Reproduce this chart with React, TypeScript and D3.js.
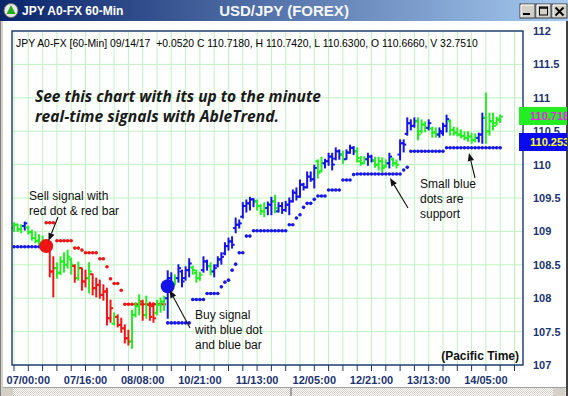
import React from "react";
import * as d3 from "d3";

const W = 568;
const H = 396;

// ---- data ----
const xLabels = ["07/00:00", "07/16:00", "08/08:00", "10/21:00", "11/13:00", "12/05:00", "12/21:00", "13/13:00", "14/05:00"];
const xLabelIndex = [4, 20, 36, 52, 68, 84, 100, 116, 132];
const yTicks = [107, 107.5, 108, 108.5, 109, 109.5, 110, 110.5, 111, 111.5, 112];

// g = neutral (green), b = up (blue), r = down (red)
const barColors = (
  "gggbgggggr" + "rrgggggrgr" + "rgrrrrrrgr" + "rrrgggrgrr" + "gggbbgbbbb" +
  "gggbbgbbbb" + "bbbbbbbbgg" + "gbbgbbbbbb" + "bbbbbggbbb" + "bbgbbbgggb" +
  "bggggbggbb" + "bbbgggbggb" + "bbgggggggg" + "bbggggg"
).split("");

const highs = [
  109.13, 109.11, 109.10, 109.14, 109.08, 109.02, 108.99, 108.95, 108.93, 108.87,
  108.78, 108.62, 108.53, 108.62, 108.68, 108.72, 108.60, 108.50, 108.54, 108.45,
  108.42, 108.53, 108.36, 108.30, 108.27, 108.20, 108.15, 107.97, 107.78, 107.75,
  107.70, 107.60, 107.52, 107.82, 107.93, 108.05, 107.97, 108.03, 107.94, 107.93,
  107.97, 108.00, 108.03, 108.41, 108.38, 108.35, 108.50, 108.42, 108.47, 108.59,
  108.48, 108.42, 108.39, 108.62, 108.57, 108.53, 108.50, 108.62, 108.68, 108.83,
  108.90, 108.92, 109.20, 109.17, 109.43, 109.47, 109.51, 109.49, 109.47, 109.40,
  109.43, 109.44, 109.51, 109.54, 109.43, 109.43, 109.45, 109.50, 109.62, 109.65,
  109.77, 109.72, 109.89, 109.89, 109.99, 110.07, 110.11, 110.08, 110.17, 110.17,
  110.25, 110.22, 110.20, 110.22, 110.29, 110.27, 110.25, 110.12, 110.12, 110.17,
  110.14, 110.11, 110.11, 110.10, 110.07, 110.17, 110.10, 110.07, 110.37, 110.37,
  110.70, 110.67, 110.70, 110.70, 110.67, 110.64, 110.67, 110.56, 110.55, 110.55,
  110.62, 110.74, 110.67, 110.56, 110.55, 110.52, 110.49, 110.49, 110.47, 110.46,
  110.47, 110.77, 111.07, 110.77, 110.77, 110.71, 110.742,
];
const lows = [
  109.00, 109.00, 108.98, 109.02, 108.96, 108.87, 108.83, 108.80, 108.78, 108.72,
  108.32, 108.02, 108.30, 108.35, 108.39, 108.45, 108.36, 108.24, 108.27, 108.12,
  108.17, 108.08, 108.05, 108.02, 108.00, 107.97, 107.60, 107.64, 107.60, 107.57,
  107.49, 107.33, 107.30, 107.25, 107.72, 107.75, 107.67, 107.70, 107.67, 107.64,
  107.75, 107.79, 107.82, 107.70, 108.17, 108.20, 108.24, 108.17, 108.27, 108.32,
  108.36, 108.24, 108.27, 108.39, 108.42, 108.35, 108.32, 108.47, 108.51, 108.65,
  108.72, 108.75, 108.98, 109.05, 109.20, 109.29, 109.32, 109.37, 109.32, 109.25,
  109.22, 109.25, 109.25, 109.28, 109.29, 109.27, 109.30, 109.25, 109.44, 109.47,
  109.51, 109.62, 109.65, 109.75, 109.65, 109.80, 109.89, 109.95, 109.99, 109.92,
  110.07, 110.08, 110.02, 110.08, 110.17, 110.15, 110.04, 109.99, 110.02, 109.99,
  110.04, 109.96, 109.92, 109.89, 109.96, 109.95, 109.98, 109.95, 110.07, 110.19,
  110.44, 110.52, 110.56, 110.37, 110.47, 110.49, 110.52, 110.41, 110.41, 110.41,
  110.44, 110.49, 110.44, 110.44, 110.43, 110.40, 110.37, 110.35, 110.32, 110.34,
  110.34, 110.32, 110.32, 110.44, 110.52, 110.59, 110.63,
];
const opens = [
  109.05, 109.10, 109.03, 109.08, 109.06, 108.99, 108.90, 108.86, 108.83, 108.80,
  108.75, 108.40, 108.45, 108.38, 108.55, 108.50, 108.58, 108.48, 108.30, 108.45,
  108.25, 108.30, 108.36, 108.15, 108.20, 108.05, 108.10, 107.70, 107.62, 107.72,
  107.60, 107.55, 107.40, 107.35, 107.75, 107.88, 107.95, 107.75, 107.90, 107.88,
  107.78, 107.90, 107.95, 108.00, 108.30, 108.22, 108.30, 108.40, 108.30, 108.42,
  108.46, 108.38, 108.30, 108.42, 108.55, 108.48, 108.40, 108.49, 108.58, 108.67,
  108.78, 108.85, 109.05, 109.10, 109.22, 109.38, 109.42, 109.48, 109.45, 109.38,
  109.30, 109.35, 109.40, 109.45, 109.30, 109.38, 109.32, 109.40, 109.45, 109.58,
  109.52, 109.70, 109.66, 109.82, 109.78, 110.05, 109.90, 110.02, 110.05, 110.12,
  110.09, 110.20, 110.15, 110.08, 110.18, 110.25, 110.20, 110.05, 110.02, 110.08,
  110.12, 110.06, 110.00, 110.05, 109.98, 110.02, 110.08, 110.02, 110.15, 110.32,
  110.46, 110.62, 110.58, 110.65, 110.50, 110.60, 110.55, 110.54, 110.48, 110.45,
  110.47, 110.58, 110.65, 110.52, 110.48, 110.45, 110.43, 110.40, 110.42, 110.37,
  110.40, 110.45, 110.70, 110.50, 110.65, 110.62, 110.666,
];
const closes = [
  109.10, 109.03, 109.08, 109.12, 108.99, 108.90, 108.86, 108.83, 108.80, 108.75,
  108.40, 108.45, 108.38, 108.55, 108.50, 108.62, 108.50, 108.30, 108.45, 108.25,
  108.30, 108.40, 108.15, 108.20, 108.05, 108.10, 107.70, 107.85, 107.72, 107.60,
  107.55, 107.40, 107.35, 107.75, 107.88, 107.95, 107.75, 107.90, 107.72, 107.70,
  107.90, 107.95, 108.00, 108.30, 108.22, 108.30, 108.45, 108.25, 108.42, 108.52,
  108.42, 108.30, 108.35, 108.55, 108.48, 108.40, 108.45, 108.58, 108.62, 108.78,
  108.85, 108.80, 109.10, 109.12, 109.38, 109.42, 109.48, 109.45, 109.38, 109.30,
  109.35, 109.40, 109.45, 109.35, 109.38, 109.32, 109.40, 109.45, 109.58, 109.52,
  109.70, 109.66, 109.82, 109.78, 109.95, 109.88, 110.02, 110.05, 110.12, 110.00,
  110.20, 110.15, 110.08, 110.18, 110.25, 110.20, 110.10, 110.02, 110.08, 110.12,
  110.06, 110.00, 110.05, 109.95, 110.02, 110.12, 110.02, 110.00, 110.32, 110.30,
  110.62, 110.58, 110.65, 110.45, 110.60, 110.55, 110.62, 110.48, 110.45, 110.50,
  110.58, 110.68, 110.52, 110.48, 110.45, 110.43, 110.40, 110.42, 110.37, 110.40,
  110.45, 110.70, 110.50, 110.65, 110.58, 110.68, 110.718,
];

const N = null;
const supportDots: (number | null)[] = [
  108.77, 108.77, 108.77, 108.77, 108.77, 108.77, 108.77, 108.77, N, N,
  N, N, N, N, N, N, N, N, N, N,
  N, N, N, N, N, N, N, N, N, N,
  N, N, N, N, N, N, N, N, N, N,
  N, N, N, 107.63, 107.63, 107.63, 107.63, 107.63, 107.63, 107.63,
  107.98, 107.98, 107.98, 107.98, 108.07, 108.07, 108.07, 108.07, 108.17, 108.24,
  108.27, 108.42, 108.51, 108.68, 108.68, 108.93, 108.93, 109.01, 109.01, 109.01,
  109.01, 109.01, 109.01, 109.01, 109.01, 109.01, 109.01, 109.10, 109.10, 109.20,
  109.25, 109.36, 109.42, 109.42, 109.48, 109.53, 109.53, 109.53, 109.62, 109.62,
  109.62, 109.62, 109.77, 109.77, 109.77, 109.85, 109.86, 109.86, 109.86, 109.86,
  109.86, 109.86, 109.86, 109.86, 109.86, 109.86, 109.86, 109.86, 109.86, 109.92,
  109.96, 110.20, 110.20, 110.20, 110.20, 110.20, 110.20, 110.20, 110.20, 110.20,
  110.20, 110.253, 110.253, 110.253, 110.253, 110.253, 110.253, 110.253, 110.253, 110.253,
  110.253, 110.253, 110.253, 110.253, 110.253, 110.253, 110.253,
];
const resistanceDots: (number | null)[] = [
  N, N, N, N, N, N, N, N, N, 109.13,
  109.13, 109.13, 108.86, 108.86, 108.86, 108.86, 108.86, 108.75, 108.75, 108.72,
  108.68, 108.68, 108.68, 108.68, 108.59, 108.59, 108.47, 108.29, 108.22, 108.22,
  108.12, 107.91, 107.91, 107.91, 107.91, 107.91, 107.91, 107.91, 107.91, 107.91,
  107.91, 107.91, 107.91, N, N, N, N, N, N, N,
  N, N, N, N, N, N, N, N, N, N,
  N, N, N, N, N, N, N, N, N, N,
  N, N, N, N, N, N, N, N, N, N,
  N, N, N, N, N, N, N, N, N, N,
  N, N, N, N, N, N, N, N, N, N,
  N, N, N, N, N, N, N, N, N, N,
  N, N, N, N, N, N, N, N, N, N,
  N, N, N, N, N, N, N, N, N, N,
  N, N, N, N, N, N, N,
];

const sellSignal = { index: 9, price: 108.78 };
const buySignal = { index: 43, price: 108.18 };
const lastClose = 110.718;
const lastSupport = 110.253;

const headerText =
  "JPY A0-FX [60-Min] 09/14/17  +0.0520 C 110.7180, H 110.7420, L 110.6300, O 110.6660, V 32.7510";

// ---- styles ----
const COL: Record<string, string> = { g: "#22ee22", b: "#1414e6", r: "#f01414" };
const NAVY = "#1c3470";
const GRID = "#bff2bf";

function arrowPath(x1: number, y1: number, x2: number, y2: number) {
  const a = Math.atan2(y2 - y1, x2 - x1);
  const len = 8, w = 3.2;
  const bx = x2 - len * Math.cos(a), by = y2 - len * Math.sin(a);
  const px = -Math.sin(a) * w, py = Math.cos(a) * w;
  return {
    line: `M${x1},${y1}L${bx},${by}`,
    head: `M${x2},${y2}L${bx + px},${by + py}L${bx - px},${by - py}Z`,
  };
}

function Arrow({ x1, y1, x2, y2 }: { x1: number; y1: number; x2: number; y2: number }) {
  const p = arrowPath(x1, y1, x2, y2);
  return (
    <g>
      <path d={p.line} stroke="#111" strokeWidth={1.1} fill="none" />
      <path d={p.head} fill="#111" />
    </g>
  );
}

function Dots({ values, color, x, y }: { values: (number | null)[]; color: string; x: any; y: any }) {
  const els: any[] = [];
  values.forEach((v, i) => {
    if (v == null) return;
    const nx = values[i + 1];
    if (nx != null && nx === v) {
      els.push(<line key={"l" + i} x1={x(i)} x2={x(i + 1)} y1={y(v)} y2={y(v)} stroke={color} strokeWidth={1.2} />);
    }
    els.push(<circle key={"c" + i} cx={x(i)} cy={y(v)} r={1.8} fill={color} />);
  });
  return <g>{els}</g>;
}

export default function App() {
  const n = highs.length;
  const L = 12, R = 523, T = 31, B = 365;
  const x = d3.scaleLinear().domain([0, n - 1]).range([14, 14 + 3.575 * (n - 1)]);
  const y = d3.scaleLinear().domain([107, 112]).range([365, 31]);
  const gridIdx = d3.range(0, 200, 4).filter((i) => x(i) < R - 1);
  const font = "'Liberation Sans', Arial, sans-serif";

  return (
    <svg width={W} height={H} style={{ position: "absolute", left: 0, top: 0, display: "block" }} fontFamily={font}>
      <defs>
        <linearGradient id="tb" x1="0" x2="1" y1="0" y2="0">
          <stop offset="0" stopColor="#0a246a" />
          <stop offset="1" stopColor="#a6caf0" />
        </linearGradient>
        <clipPath id="plotclip">
          <rect x={L} y={T} width={R - L} height={B - T} />
        </clipPath>
        <clipPath id="hdrclip">
          <rect x={L} y={T} width={517 - L} height={B - T} />
        </clipPath>
        <clipPath id="rclip">
          <rect x={0} y={0} width={W - 1} height={H} />
        </clipPath>
        <pattern id="dither" width="2" height="2" patternUnits="userSpaceOnUse">
          <rect width="2" height="2" fill="#ffffff" />
          <rect width="1" height="1" fill="#d4d0c8" />
          <rect x="1" y="1" width="1" height="1" fill="#d4d0c8" />
        </pattern>
      </defs>

      {/* window chrome */}
      <rect x={0} y={0} width={W} height={H} fill="#d4d0c8" />
      <rect x={0} y={0} width={1} height={H} fill="#808080" />
      <rect x={W - 2} y={0} width={2} height={H} fill="#404040" />
      <rect x={3} y={21} width={W - 5} height={366} fill="#ffffff" />
      <rect x={0} y={0} width={W} height={21} fill="url(#tb)" />
      {/* icon */}
      <circle cx={11} cy={10.5} r={7} fill="#e8e8e8" stroke="#6a6a6a" strokeWidth={1} />
      <path d="M11,5 L15.5,14 L6.5,14 Z" fill="#22aa22" />
      <text x={22} y={15} fill="#ffffff" fontSize={12} fontWeight="bold">JPY A0-FX 60-Min</text>
      <text x={284} y={16} fill="#f4f6fa" fontSize={15} fontWeight="bold" textAnchor="middle">USD/JPY (FOREX)</text>
      {/* window buttons */}
      {[520, 536, 552].map((bx, k) => (
        <g key={k}>
          <rect x={bx} y={4} width={15} height={14} fill="#d4d0c8" stroke="#404040" strokeWidth={1} />
          <line x1={bx + 1} y1={5} x2={bx + 14} y2={5} stroke="#ffffff" />
          <line x1={bx + 1} y1={5} x2={bx + 1} y2={17} stroke="#ffffff" />
        </g>
      ))}
      <rect x={523} y={13} width={7} height={2} fill="#000" />
      <rect x={539.5} y={7} width={8} height={8} fill="none" stroke="#000" strokeWidth={1} />
      <line x1={539.5} y1={8} x2={547.5} y2={8} stroke="#000" strokeWidth={1.5} />
      <path d="M555.5,7.5 L563.5,15.5 M563.5,7.5 L555.5,15.5" stroke="#000" strokeWidth={1.8} />

      {/* bottom scrollbar */}
      <rect x={3} y={387} width={W - 5} height={9} fill="url(#dither)" />
      <line x1={3} y1={387.5} x2={W - 2} y2={387.5} stroke="#a0a0a0" />
      <rect x={3} y={388} width={10} height={8} fill="#d4d0c8" />
      <rect x={290} y={388} width={2} height={8} fill="#a0a0a0" />
      <rect x={553} y={388} width={12} height={8} fill="#d4d0c8" />

      {/* grid */}
      <g>
        {gridIdx.map((i) => (
          <line key={"gv" + i} x1={x(i)} x2={x(i)} y1={T} y2={B} stroke={GRID} strokeWidth={1} />
        ))}
        {yTicks.map((t) => (
          <line key={"gh" + t} x1={L} x2={R} y1={y(t)} y2={y(t)} stroke={GRID} strokeWidth={1} />
        ))}
      </g>

      {/* header */}
      <g clipPath="url(#hdrclip)">
        <text x={16} y={46.5} fontSize={10.4} fill="#000" style={{ whiteSpace: "pre" }}>{headerText}</text>
      </g>

      {/* promo text */}
      <g fontFamily="'Open Sans', sans-serif" fontStyle="italic" fontWeight="bold" fontSize={16.5} fill="#1a1a1a">
        <text x={35} y={102} textLength={286} lengthAdjust="spacingAndGlyphs">See this chart with its up to the minute</text>
        <text x={35} y={122} textLength={244} lengthAdjust="spacingAndGlyphs">real-time signals with AbleTrend.</text>
      </g>

      {/* plot contents */}
      <g clipPath="url(#plotclip)">
        <Dots values={supportDots} color="#1818e8" x={x} y={y} />
        <Dots values={resistanceDots} color="#f01414" x={x} y={y} />
        {highs.map((h, i) => {
          const c = COL[barColors[i]];
          const cx = x(i);
          return (
            <g key={"b" + i} stroke={c} strokeWidth={2}>
              <line x1={cx} x2={cx} y1={y(h) - 0.5} y2={y(lows[i]) + 0.5} />
              <line x1={cx - 2.6} x2={cx} y1={y(opens[i])} y2={y(opens[i])} />
              <line x1={cx} x2={cx + 2.6} y1={y(closes[i])} y2={y(closes[i])} />
            </g>
          );
        })}
        <circle cx={x(sellSignal.index)} cy={y(sellSignal.price)} r={7} fill="#f01414" />
        <circle cx={x(buySignal.index)} cy={y(buySignal.price)} r={7} fill="#1414e6" />
      </g>

      {/* frame */}
      <rect x={L} y={T} width={R - L} height={B - T} fill="none" stroke={NAVY} strokeWidth={1.4} />

      {/* x axis */}
      <g>
        {gridIdx.map((i) => (
          <line key={"t" + i} x1={x(i)} x2={x(i)} y1={B} y2={B + 6} stroke={NAVY} strokeWidth={1} />
        ))}
        {xLabels.map((lab, k) => (
          <text key={lab} x={x(xLabelIndex[k])} y={384} fontSize={11} fontWeight="bold" fill={NAVY} textAnchor="middle">
            {lab}
          </text>
        ))}
      </g>

      {/* y axis */}
      <g>
        {yTicks.map((t) => (
          <text key={"yl" + t} x={533} y={y(t) + 4} fontSize={11} fontWeight="bold" fill={NAVY}>
            {t}
          </text>
        ))}
      </g>

      {/* value tags */}
      <g clipPath="url(#rclip)">
        <rect x={519} y={107} width={50} height={18} fill="#22ee22" />
        <text x={530} y={120} fontSize={11} fontWeight="bold" fill="#ee22ee">{lastClose.toFixed(3)}</text>
        <rect x={519} y={133} width={50} height={18} fill="#0a0af0" />
        <text x={530} y={146} fontSize={11} fontWeight="bold" fill="#ffff22">{lastSupport.toFixed(3)}</text>
      </g>

      {/* annotations */}
      <g fontSize={12} fill="#111">
        <text x={29} y={200}>Sell signal with</text>
        <text x={29} y={215}>red dot &amp; red bar</text>
        <text x={195} y={319}>Buy signal</text>
        <text x={195} y={334}>with blue dot</text>
        <text x={195} y={349}>and blue bar</text>
        <text x={420} y={188}>Small blue</text>
        <text x={420} y={203}>dots are</text>
        <text x={420} y={218}>support</text>
      </g>
      <Arrow x1={58} y1={217} x2={48.5} y2={241} />
      <Arrow x1={190} y1={328} x2={169.5} y2={290} />
      <Arrow x1={408} y1={208} x2={390} y2={178} />
      <Arrow x1={475} y1={178} x2={469} y2={153} />
      <text x={519} y={360} fontSize={12} fontWeight="bold" fill="#111" textAnchor="end">(Pacific Time)</text>
    </svg>
  );
}
